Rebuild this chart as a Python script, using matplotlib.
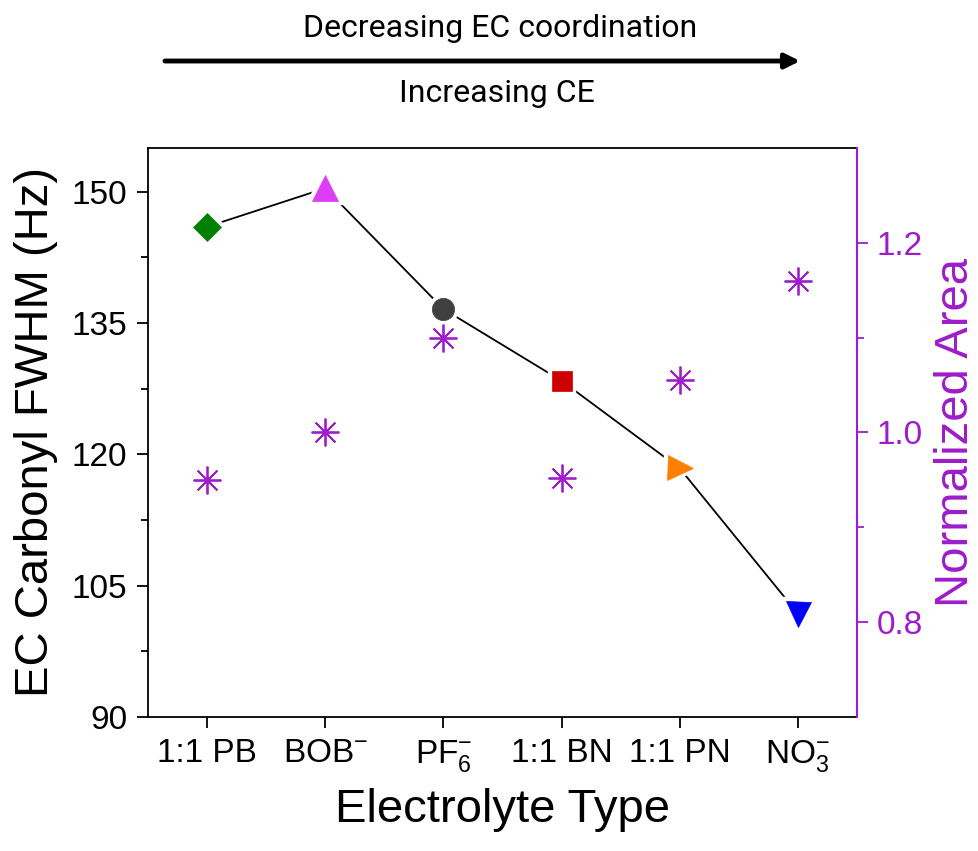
import numpy as np
import matplotlib
matplotlib.use("Agg")
import matplotlib.pyplot as plt
from matplotlib.ticker import FixedLocator

plt.rcParams["font.family"] = ["Liberation Sans", "DejaVu Sans"]
plt.rcParams["mathtext.fontset"] = "custom"
plt.rcParams["mathtext.rm"] = "Liberation Sans"
plt.rcParams["mathtext.it"] = "Liberation Sans"

# ── data ──────────────────────────────────────────────────────────────────────
categories = [r"1:1 PB", r"$\mathregular{BOB^{-}}$", r"$\mathregular{PF_6^{-}}$",
              r"1:1 BN", r"1:1 PN", r"$\mathregular{NO_3^{-}}$"]
fwhm = [146.0, 150.4, 136.6, 128.4, 118.4, 101.8]
norm_area = [0.950, 1.000, 1.100, 0.952, 1.055, 1.160]

# per-point styling
MARKERS = ["D", "^", "o", "s", ">", "v"]
SIZES = [14, 19, 16, 15, 18, 18]
COLORS = ["#008000", "#DD3DF7", "#404040", "#CC0000", "#FF8000", "#0000FF"]
PURPLE = "#9E1CCB"

fig = plt.figure(figsize=(9.79, 8.51), dpi=100)
ax = fig.add_axes([0.1512, 0.1575, 0.7242, 0.6686])
x = np.arange(len(categories))

# connecting line, markers with a white halo so the line stops short
ax.plot(x, fwhm, color="black", lw=1.3, zorder=1)
for xi, yi, m, s, c in zip(x, fwhm, MARKERS, SIZES, COLORS):
    ax.plot(xi, yi, marker=m, ms=s, color="white", mec="white", mew=6, zorder=2)
    ax.plot(xi, yi, marker=m, ms=s, color=c, mec=c, mew=0.5, zorder=3)

ax.set_xlim(-0.5, 5.5)
ax.set_ylim(90, 155)
ax.set_xticks(x)
ax.set_xticklabels(categories)
ax.set_yticks([90, 105, 120, 135, 150])
ax.yaxis.set_minor_locator(FixedLocator([97.5, 112.5, 127.5, 142.5]))
ax.tick_params(axis="both", which="major", direction="out", length=8, width=1.3,
               labelsize=24, pad=7)
ax.tick_params(axis="y", which="minor", direction="out", length=5, width=1.3)
ax.set_xlabel("Electrolyte Type", fontsize=34, labelpad=10)
ax.set_ylabel("EC Carbonyl FWHM (Hz)", fontsize=34, labelpad=10)
for sp in ["left", "bottom", "top"]:
    ax.spines[sp].set_linewidth(1.3)
ax.spines["right"].set_visible(False)

# right axis: normalized area
ax2 = ax.twinx()
ax2.plot(x, norm_area, ls="none", marker=(8, 2, 0), ms=20, mew=1.3,
         color=PURPLE, mec=PURPLE, zorder=4)
ax2.set_ylim(0.7, 1.3)
ax2.set_yticks([0.8, 1.0, 1.2])
ax2.yaxis.set_minor_locator(FixedLocator([0.9, 1.1]))
ax2.tick_params(axis="y", which="major", direction="out", length=8, width=1.3,
                labelsize=24, pad=6, colors=PURPLE)
ax2.tick_params(axis="y", which="minor", direction="out", length=5, width=1.3,
                colors=PURPLE)
ax2.set_ylabel("Normalized Area", fontsize=34, color=PURPLE, labelpad=8)
ax2.spines["right"].set_color(PURPLE)
ax2.spines["right"].set_linewidth(1.5)
for sp in ["left", "top", "bottom"]:
    ax2.spines[sp].set_visible(False)

# ── trend annotation on top ──
fig.text(0.5107, 0.9565, "Decreasing EC coordination", ha="center", va="baseline",
         fontsize=23, family=["Roboto"])
fig.text(0.508, 0.880, "Increasing CE", ha="center", va="baseline",
         fontsize=23, family=["Roboto"])
fig.add_artist(matplotlib.patches.FancyArrowPatch(
    (0.1685, 0.9283), (0.8172, 0.9283), transform=fig.transFigure,
    arrowstyle="-|>", mutation_scale=22, lw=3.5, color="black",
    shrinkA=0, shrinkB=0))

fig.savefig("out.png", dpi=100)
